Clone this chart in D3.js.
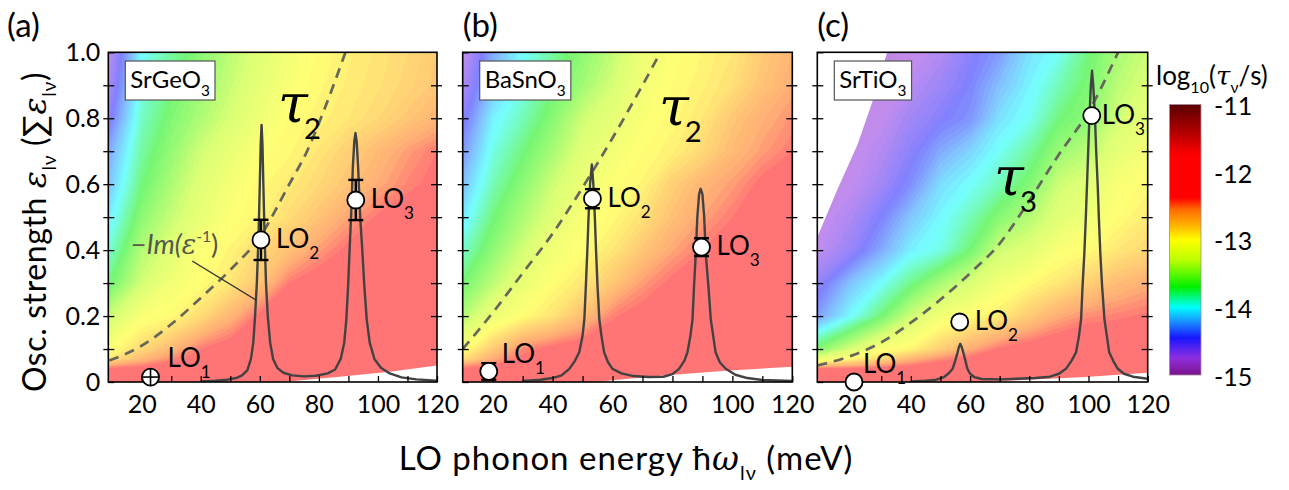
<!DOCTYPE html>
<html>
<head>
<meta charset="utf-8">
<script src="https://cdn.jsdelivr.net/npm/d3@7"></script>
<style>
  body { margin: 0; background: #fff; }
  text { font-family: Lato, "Open Sans", sans-serif; fill: #000; }
</style>
</head>
<body>
<svg id="chart" width="1289" height="490"></svg>
<script>
// ---- data ----
// log10(tau/s) grid, columns = gridX (meV), rows = gridY (osc. strength, top to bottom)
var gridX = [8, 20, 30, 40, 50, 60, 70, 80, 90, 100, 110, 120];
var gridY = [1.0, 0.9, 0.8, 0.7, 0.6, 0.5, 0.4, 0.3, 0.2, 0.1, 0.07, 0.04, 0];

var tauA = [
  [-14.8, -14.0, -13.8, -13.62, -13.42, -13.25, -13.1, -12.99, -12.93, -12.87, -12.8, -12.72],
  [-14.7, -13.95, -13.73, -13.55, -13.37, -13.2, -13.05, -12.97, -12.91, -12.85, -12.78, -12.7],
  [-14.55, -13.88, -13.65, -13.47, -13.3, -13.13, -13.0, -12.94, -12.88, -12.8, -12.7, -12.6],
  [-14.35, -13.8, -13.57, -13.34, -13.18, -13.02, -12.97, -12.87, -12.75, -12.63, -12.5, -12.4],
  [-14.25, -13.72, -13.48, -13.25, -13.08, -12.98, -12.9, -12.8, -12.68, -12.55, -12.43, -12.36],
  [-14.1, -13.6, -13.38, -13.18, -13.03, -12.95, -12.82, -12.68, -12.52, -12.38, -12.32, -12.28],
  [-13.95, -13.45, -13.25, -13.04, -12.95, -12.8, -12.66, -12.5, -12.36, -12.3, -12.26, -12.24],
  [-13.75, -13.33, -13.1, -13.0, -12.88, -12.69, -12.4, -12.3, -12.26, -12.24, -12.22, -12.2],
  [-13.4, -13.05, -12.98, -12.82, -12.6, -12.36, -12.3, -12.25, -12.22, -12.2, -12.2, -12.2],
  [-13.05, -12.8, -12.62, -12.4, -12.3, -12.25, -12.22, -12.2, -12.2, -12.2, -12.2, -12.2],
  [-12.9, -12.62, -12.45, -12.32, -12.25, -12.22, -12.2, -12.2, -12.2, -12.2, -12.2, -12.2],
  [-12.38, -12.33, -12.28, -12.24, -12.2, -12.2, -12.18, -12.18, -12.18, -12.18, -12.18, -12.18],
  [-12.1, -12.1, -12.1, -12.1, -12.1, -12.1, -12.1, -12.1, -12.1, -12.1, -12.1, -12.1]
];
var tauB = [
  [-14.85, -14.3, -14.0, -13.8, -13.6, -13.4, -13.15, -13.02, -12.96, -12.88, -12.72, -12.6],
  [-14.75, -14.2, -13.95, -13.72, -13.52, -13.32, -13.1, -13.0, -12.93, -12.84, -12.68, -12.55],
  [-14.6, -14.05, -13.85, -13.62, -13.35, -13.2, -13.05, -12.98, -12.88, -12.7, -12.57, -12.47],
  [-14.45, -13.95, -13.72, -13.5, -13.25, -13.1, -13.0, -12.93, -12.8, -12.63, -12.5, -12.4],
  [-14.3, -13.85, -13.6, -13.35, -13.15, -13.02, -12.95, -12.75, -12.6, -12.5, -12.36, -12.3],
  [-14.15, -13.72, -13.48, -13.25, -13.07, -12.98, -12.85, -12.66, -12.52, -12.4, -12.3, -12.26],
  [-13.95, -13.6, -13.33, -13.1, -13.0, -12.88, -12.7, -12.53, -12.4, -12.3, -12.25, -12.22],
  [-13.75, -13.42, -13.18, -13.0, -12.88, -12.7, -12.5, -12.36, -12.3, -12.24, -12.22, -12.2],
  [-13.5, -13.15, -13.0, -12.86, -12.66, -12.42, -12.32, -12.25, -12.2, -12.2, -12.2, -12.2],
  [-13.1, -12.72, -12.45, -12.34, -12.28, -12.24, -12.2, -12.2, -12.2, -12.2, -12.2, -12.2],
  [-12.9, -12.55, -12.35, -12.28, -12.22, -12.2, -12.2, -12.2, -12.2, -12.2, -12.2, -12.2],
  [-12.38, -12.33, -12.28, -12.2, -12.2, -12.18, -12.18, -12.18, -12.18, -12.18, -12.18, -12.18],
  [-12.1, -12.1, -12.1, -12.1, -12.1, -12.1, -12.1, -12.1, -12.1, -12.1, -12.1, -12.1]
];
var tauC = [
  [-14.9, -14.85, -14.82, -14.78, -14.68, -14.5, -14.35, -14.1, -13.98, -13.72, -13.5, -13.35],
  [-14.9, -14.83, -14.8, -14.7, -14.58, -14.44, -14.22, -14.04, -13.85, -13.66, -13.42, -13.28],
  [-14.85, -14.8, -14.75, -14.6, -14.48, -14.38, -14.1, -13.98, -13.72, -13.6, -13.33, -13.2],
  [-14.85, -14.78, -14.68, -14.5, -14.3, -14.15, -13.98, -13.8, -13.55, -13.42, -13.2, -13.1],
  [-14.85, -14.75, -14.6, -14.4, -14.12, -14.0, -13.85, -13.65, -13.35, -13.25, -13.05, -12.98],
  [-14.8, -14.65, -14.45, -14.2, -14.02, -13.85, -13.62, -13.45, -13.25, -13.12, -13.0, -12.9],
  [-14.75, -14.55, -14.3, -14.05, -13.95, -13.7, -13.35, -13.25, -13.05, -12.98, -12.88, -12.8],
  [-14.55, -14.2, -14.0, -13.75, -13.5, -13.3, -13.1, -12.98, -12.88, -12.75, -12.64, -12.56],
  [-14.35, -14.0, -13.7, -13.35, -13.1, -13.0, -12.9, -12.72, -12.55, -12.45, -12.42, -12.38],
  [-13.65, -13.3, -13.05, -12.95, -12.75, -12.55, -12.38, -12.3, -12.25, -12.22, -12.22, -12.22],
  [-13.2, -12.95, -12.8, -12.6, -12.45, -12.35, -12.28, -12.25, -12.22, -12.22, -12.22, -12.22],
  [-12.38, -12.36, -12.33, -12.3, -12.25, -12.22, -12.2, -12.2, -12.2, -12.2, -12.2, -12.2],
  [-12.1, -12.1, -12.1, -12.1, -12.1, -12.1, -12.1, -12.1, -12.1, -12.1, -12.1, -12.1]
];

// regions with no map (white)
var blankA = [[68, 0], [75, 0.006], [87, 0.016], [104, 0.031], [120, 0.05]];
var blankB = [[55, 0], [60, 0.005], [77, 0.02], [99, 0.035], [120, 0.046]];
var blankC = [[65, 0], [76, 0.005], [99, 0.015], [120, 0.028]];
var blankCTop = [[8, 0.43], [15, 0.58], [22, 0.72], [27, 0.85], [32, 1.0]];

// -Im(1/eps) loss function
var lossA = [[40, 0.002], [45, 0.004], [49, 0.007], [52, 0.012], [54, 0.02], [55.8, 0.036], [57, 0.07], [57.8, 0.12], [58.4, 0.2], [59, 0.3], [59.6, 0.45], [60, 0.6], [60.3, 0.72], [60.6, 0.78], [60.9, 0.72], [61.2, 0.6], [61.6, 0.45], [62.1, 0.3], [62.7, 0.2], [63.5, 0.12], [64.5, 0.07], [66, 0.042], [68, 0.028], [71, 0.02], [75, 0.017], [79, 0.019], [83, 0.026], [85.5, 0.038], [87.4, 0.07], [88.6, 0.12], [89.3, 0.19], [89.9, 0.29], [90.4, 0.4], [90.9, 0.5], [91.5, 0.65], [92, 0.73], [92.4, 0.755], [92.8, 0.73], [93.3, 0.65], [94, 0.5], [94.7, 0.4], [95.4, 0.29], [96.2, 0.19], [97.2, 0.12], [98.8, 0.07], [101, 0.043], [104, 0.026], [108, 0.014], [113, 0.008], [120, 0.004]];
var lossB = [[30, 0.003], [36, 0.007], [40, 0.012], [43, 0.02], [45.6, 0.04], [47.5, 0.065], [48.9, 0.09], [50, 0.14], [50.6, 0.19], [51.1, 0.29], [51.6, 0.4], [52, 0.5], [52.5, 0.6], [53.1, 0.66], [53.6, 0.6], [54.1, 0.5], [54.5, 0.4], [55, 0.29], [55.6, 0.19], [56.3, 0.14], [57.2, 0.09], [58.5, 0.06], [60, 0.04], [63, 0.026], [67, 0.018], [72, 0.015], [77, 0.016], [80, 0.024], [82.2, 0.04], [84, 0.065], [85, 0.09], [86, 0.14], [86.7, 0.19], [87.2, 0.29], [87.8, 0.39], [88.3, 0.5], [88.9, 0.57], [89.4, 0.586], [90, 0.57], [90.6, 0.5], [91.1, 0.39], [92, 0.29], [92.8, 0.19], [93.6, 0.14], [94.4, 0.09], [95.8, 0.06], [97.8, 0.04], [101, 0.022], [105, 0.012], [110, 0.006], [120, 0.003]];
var lossC = [[40, 0.002], [45, 0.004], [48, 0.006], [51.2, 0.015], [53, 0.028], [54.1, 0.04], [55, 0.065], [55.8, 0.09], [56.3, 0.108], [56.7, 0.116], [57.1, 0.108], [57.7, 0.09], [58.4, 0.065], [59.1, 0.04], [60, 0.025], [61.4, 0.015], [64, 0.009], [70, 0.008], [76, 0.01], [82, 0.012], [87, 0.016], [90, 0.025], [92.4, 0.04], [94.3, 0.065], [95.8, 0.09], [96.8, 0.14], [97.5, 0.19], [98, 0.29], [98.6, 0.39], [99.1, 0.5], [99.5, 0.6], [99.9, 0.7], [100.3, 0.8], [100.8, 0.9], [101.2, 0.944], [101.6, 0.9], [102.2, 0.8], [102.6, 0.7], [103.1, 0.6], [103.5, 0.5], [104, 0.39], [104.6, 0.29], [105.4, 0.19], [106.2, 0.14], [107, 0.09], [108.3, 0.065], [109.9, 0.04], [112, 0.025], [115, 0.016], [120, 0.01]];

// dashed tau_2 / tau_3 boundaries
var dashA = [[9, 0.065], [20, 0.11], [30, 0.175], [40, 0.255], [50, 0.34], [60, 0.44], [70, 0.6], [76, 0.7], [82, 0.83], [89, 1.0]];
var dashB = [[10, 0.1], [20, 0.21], [30, 0.33], [40, 0.45], [50, 0.59], [60, 0.74], [70, 0.9], [76, 1.0]];
var dashC = [[8.4, 0.05], [20, 0.08], [30, 0.12], [40, 0.18], [50, 0.25], [60, 0.33], [70, 0.42], [80, 0.55], [90, 0.69], [100, 0.82], [110, 1.0]];

// LO modes
var loXA = [23, 60.4, 92.5], loYA = [0.015, 0.431, 0.552], loErrA = [0, 0.061, 0.061];
var loXB = [18.7, 53.3, 89.7], loYB = [0.032, 0.556, 0.409], loErrB = [0.025, 0.029, 0.027];
var loXC = [20.8, 56.5, 101.1], loYC = [0, 0.182, 0.808], loErrC = [0, 0, 0];

var materials = ["SrGeO", "BaSnO", "SrTiO"];
var panelTags = ["(a)", "(b)", "(c)"];
var tauSubs = ["2", "2", "3"];

var xTicks = [20, 40, 60, 80, 100, 120];
var yTicks = [0, 0.2, 0.4, 0.6, 0.8, 1.0];
var cbTicks = [-11, -12, -13, -14, -15];
var cbValues = [-15, -14.75, -14.45, -14.22, -14.0, -13.7, -13.3, -13.0, -12.78, -12.55, -12.38, -11.75, -11.4, -11];
var cbColors = ["#7a1288", "#8f2ee0", "#1717ff", "#1a8cff", "#00ffff", "#00f000", "#bcff00", "#ffff00", "#ffb000", "#ff6a00", "#ff0000", "#ff0000", "#b00000", "#5a0000"];

// ---- layout ----
var svg = d3.select("#chart");
var plotTop = 52.3, plotBottom = 382;
var panels = [
  { left: 108.3, right: 437, dom: [8.7, 120], tau: tauA, blank: blankA, loss: lossA, dash: dashA,
    lx: loXA, ly: loYA, le: loErrA, tauPos: [66.2, 0.788] },
  { left: 462.7, right: 792.3, dom: [10, 120], tau: tauB, blank: blankB, loss: lossB, dash: dashB,
    lx: loXB, ly: loYB, le: loErrB, tauPos: [75.5, 0.779] },
  { left: 817.3, right: 1147.7, dom: [8.4, 120], tau: tauC, blank: blankC, loss: lossC, dash: dashC,
    lx: loXC, ly: loYC, le: loErrC, tauPos: [68.1, 0.567] }
];

var color = d3.scaleLinear().domain(cbValues).range(cbColors).clamp(true);
var y = d3.scaleLinear().domain([0, 1]).range([plotBottom, plotTop]);

function richText(sel, x, yy, parts, size, anchor) {
  var t = sel.append("text").attr("x", x).attr("y", yy)
    .attr("font-size", size).attr("text-anchor", anchor || "start");
  var shift = 0;
  parts.forEach(function(p) {
    var target = p.sub ? size * (p.subShift || 0.32) : (p.sup ? -size * 0.42 : 0);
    var s = t.append("tspan").attr("dy", target - shift).text(p.t);
    shift = target;
    if (p.sub || p.sup) s.attr("font-size", size * (p.scale || 0.64));
    if (p.size) s.attr("font-size", p.size);
    if (p.it) s.attr("font-style", "italic");
    if (p.serif) s.attr("font-family", "'DejaVu Serif', serif");
    if (p.fill) s.style("fill", p.fill);
    if (p.dx) s.attr("dx", p.dx);
  });
  return t;
}

var step = 0.04;
var thresholds = d3.range(-15, -11.0001, step);

panels.forEach(function(p, k) {
  var x = d3.scaleLinear().domain(p.dom).range([p.left, p.right]);
  var g = svg.append("g");
  var clipId = "clip" + k;
  svg.append("clipPath").attr("id", clipId).append("rect")
    .attr("x", p.left).attr("y", plotTop).attr("width", p.right - p.left).attr("height", plotBottom - plotTop);

  // heat map from the grid via d3.contours
  var nx = gridX.length, ny = gridY.length;
  var values = [];
  p.tau.forEach(function(row) { row.forEach(function(v) { values.push(v); }); });
  var fx = d3.scaleLinear().domain(d3.range(nx)).range(gridX);
  var fy = d3.scaleLinear().domain(d3.range(ny)).range(gridY);
  var proj = d3.geoTransform({
    point: function(px, py) {
      var ix = Math.max(0, Math.min(nx - 1, px - 0.5));
      var iy = Math.max(0, Math.min(ny - 1, py - 0.5));
      this.stream.point(x(fx(ix)), y(fy(iy)));
    }
  });
  var path = d3.geoPath(proj);
  var contours = d3.contours().size([nx, ny]).thresholds(thresholds)(values);
  var heat = g.append("g").attr("clip-path", "url(#" + clipId + ")").attr("opacity", 0.54);
  heat.selectAll("path").data(contours).enter().append("path")
    .attr("d", path)
    .attr("fill", function(d) { return color(d.value + step / 2); });

  var area0 = d3.area().x(function(d) { return x(d[0]); }).y0(plotBottom + 2).y1(function(d) { return y(d[1]); });
  var blankG = g.append("g").attr("clip-path", "url(#" + clipId + ")");
  blankG.append("path").datum(p.blank).attr("d", area0).attr("fill", "#fff");
  if (k === 2) {
    var areaTop = d3.area().x(function(d) { return x(d[0]); }).y0(plotTop - 2).y1(function(d) { return y(d[1]); });
    blankG.append("path").datum(blankCTop).attr("d", areaTop).attr("fill", "#fff");
  }

  var lines = g.append("g").attr("clip-path", "url(#" + clipId + ")");
  lines.append("path").datum(p.dash)
    .attr("d", d3.line().curve(d3.curveMonotoneX).x(function(d) { return x(d[0]); }).y(function(d) { return y(d[1]); }))
    .attr("fill", "none").attr("stroke", "#66665a").attr("stroke-width", 2.7)
    .attr("stroke-dasharray", "10,7");
  lines.append("path").datum(p.loss)
    .attr("d", d3.line().x(function(d) { return x(d[0]); }).y(function(d) { return y(d[1]); }))
    .attr("fill", "none").attr("stroke", "#424242").attr("stroke-width", 2.4).attr("stroke-linejoin", "round");

  // axes: inward ticks, plus short outward ticks on the side spines
  var xa = g.append("g").attr("transform", "translate(0," + plotBottom + ")")
    .call(d3.axisBottom(x).tickValues(d3.range(20, 121, 10)).tickSize(-6).tickPadding(13)
      .tickFormat(function(d) { return xTicks.indexOf(d) >= 0 ? d : ""; }));
  var ya = g.append("g").attr("transform", "translate(" + p.left + ",0)")
    .call(d3.axisLeft(y).tickValues(d3.range(0, 1.001, 0.1)).tickSize(-6).tickPadding(8)
      .tickFormat(function(d) {
        if (k > 0) return "";
        var r = Math.round(d * 10) / 10;
        if (yTicks.indexOf(r) < 0) return "";
        return r === 0 ? "0" : d3.format(".1f")(r);
      }));
  var yo = g.append("g").attr("transform", "translate(" + p.left + ",0)")
    .call(d3.axisLeft(y).tickValues(d3.range(0.1, 1.0, 0.1)).tickSize(5).tickFormat(""));
  var ra = g.append("g").attr("transform", "translate(" + p.right + ",0)")
    .call(d3.axisRight(y).tickValues(d3.range(0.1, 1.0, 0.1)).tickSize(-6).tickFormat(""));
  var ro = g.append("g").attr("transform", "translate(" + p.right + ",0)")
    .call(d3.axisRight(y).tickValues(d3.range(0.1, 1.0, 0.1)).tickSize(5).tickFormat(""));
  [xa, ya, yo, ra, ro].forEach(function(a) {
    a.select(".domain").remove();
    a.selectAll("line").attr("stroke", "#000").attr("stroke-width", 1.3);
    a.selectAll("text").attr("font-family", "Lato, sans-serif").attr("font-size", 25).style("fill", "#000");
  });

  g.append("rect").attr("x", p.left).attr("y", plotTop).attr("width", p.right - p.left).attr("height", plotBottom - plotTop)
    .attr("fill", "none").attr("stroke", "#000").attr("stroke-width", 1.6);

  // material box
  var bx = p.left + 17, by = 61;
  var box = g.append("rect").attr("x", bx).attr("y", by).attr("height", 39)
    .attr("fill", "#fff").attr("stroke", "#555").attr("stroke-width", 1.2);
  var mt = richText(g, bx + 5, by + 27, [{ t: materials[k] }, { t: "3", sub: true, scale: 0.64 }], 24);
  box.attr("width", mt.node().getBBox().width + 10);

  // tau label
  richText(g, x(p.tauPos[0]), y(p.tauPos[1]), [
    { t: "τ", it: true, serif: true },
    { t: tauSubs[k], sub: true, scale: 0.54, subShift: 0.32, dx: -4 }
  ], 54);

  // LO markers
  var pts = g.append("g");
  p.lx.forEach(function(xv, i) {
    var cx = x(xv), cy = y(p.ly[i]), e = p.le[i];
    if (e > 0) {
      var y1 = y(p.ly[i] + e), y2 = y(p.ly[i] - e);
      pts.append("line").attr("x1", cx).attr("x2", cx).attr("y1", y1).attr("y2", y2)
        .attr("stroke", "#000").attr("stroke-width", 2.4);
      [y1, y2].forEach(function(yy) {
        pts.append("line").attr("x1", cx - 7.5).attr("x2", cx + 7.5).attr("y1", yy).attr("y2", yy)
          .attr("stroke", "#000").attr("stroke-width", 2.4);
      });
    }
    pts.append("circle").attr("cx", cx).attr("cy", cy).attr("r", 8.5)
      .attr("fill", "#fff").attr("stroke", "#000").attr("stroke-width", 1.8);
    if (k === 0 && i === 0) {
      pts.append("line").attr("x1", cx - 8.5).attr("x2", cx + 8.5).attr("y1", cy).attr("y2", cy)
        .attr("stroke", "#000").attr("stroke-width", 1.6);
      pts.append("line").attr("x1", cx).attr("x2", cx).attr("y1", cy - 8.5).attr("y2", cy + 8.5)
        .attr("stroke", "#000").attr("stroke-width", 1.6);
    }
    var ox = i === 0 ? 13 : 15, oy = i === 0 ? -8 : 8;
    if (k === 0 && i === 0) { ox = 17; oy = -10; }
    if (k === 2 && i === 0) { ox = 9; oy = -9; }
    if (k === 2 && i === 2) { ox = 10; }
    richText(g, cx + ox, cy + oy, [{ t: "LO" }, { t: String(i + 1), sub: true, scale: 0.66, subShift: 0.42 }], 26);
  });

  // panel tag
  g.append("text").attr("x", k === 0 ? 7 : p.left).attr("y", 37)
    .attr("font-size", 33).text(panelTags[k]);

  if (k === 0) {
    richText(g, x(16.3), y(0.389), [
      { t: "−", fill: "#57574e" }, { t: "Im(", it: true, fill: "#57574e" },
      { t: "ε", it: true, serif: true, fill: "#57574e" },
      { t: "-1", sup: true, scale: 0.58, fill: "#57574e" },
      { t: ")", fill: "#57574e" }
    ], 27);
    g.append("line").attr("x1", x(37.1)).attr("y1", y(0.367)).attr("x2", x(58.8)).attr("y2", y(0.248))
      .attr("stroke", "#333").attr("stroke-width", 1.4);
  }
});

// colour bar
var cbX = 1169.5, cbW = 31.5;
var cbY = d3.scaleLinear().domain([-15, -11]).range([375, 104.5]);
var grad = svg.append("defs").append("linearGradient").attr("id", "cbgrad")
  .attr("x1", 0).attr("y1", 1).attr("x2", 0).attr("y2", 0);
cbValues.forEach(function(v, i) {
  grad.append("stop").attr("offset", (v + 15) / 4).attr("stop-color", cbColors[i]);
});
svg.append("rect").attr("x", cbX).attr("y", cbY(-11)).attr("width", cbW).attr("height", cbY(-15) - cbY(-11))
  .attr("fill", "url(#cbgrad)").attr("stroke", "#a08aa0").attr("stroke-width", 0.8);
var cba = svg.append("g").attr("transform", "translate(" + (cbX + cbW) + ",2)")
  .call(d3.axisRight(cbY).tickValues(cbTicks).tickSize(0).tickPadding(13).tickFormat(function(d) { return d; }));
cba.select(".domain").remove();
cba.selectAll("text").attr("font-family", "Lato, sans-serif").attr("font-size", 25).style("fill", "#000");

richText(svg, 1156, 85, [
  { t: "log" }, { t: "10", sub: true, scale: 0.62, subShift: 0.3 },
  { t: "(" }, { t: "τ", it: true, serif: true },
  { t: "ν", sub: true, scale: 0.6, subShift: 0.3 }, { t: "/s)" }
], 26);

// axis titles
richText(svg, 626, 470, [
  { t: "LO phonon energy ħ" }, { t: "ω", it: true, serif: true },
  { t: "lν", sub: true, scale: 0.6, subShift: 0.3 }, { t: " (meV)" }
], 33, "middle").attr("letter-spacing", 1);

var yl = svg.append("g").attr("transform", "translate(46,232) rotate(-90)");
richText(yl, 0, 0, [
  { t: "Osc. strength " }, { t: "ε", it: true, serif: true },
  { t: "lν", sub: true, scale: 0.6, subShift: 0.3 }, { t: " (" },
  { t: "∑", size: 32 }, { t: "ε", it: true, serif: true },
  { t: "lν", sub: true, scale: 0.6, subShift: 0.3 }, { t: ")" }
], 32, "middle").attr("letter-spacing", 0.6);
</script>
</body>
</html>
